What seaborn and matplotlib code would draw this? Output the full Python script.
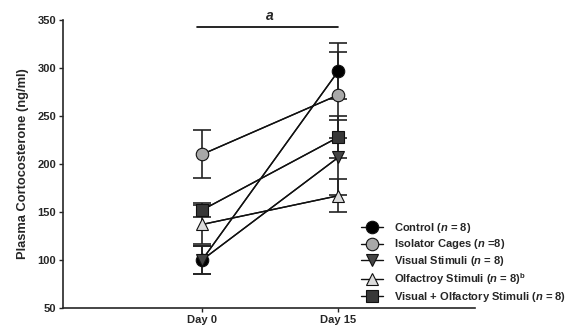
import pandas as pd
import numpy as np
import seaborn as sns
import matplotlib.pyplot as plt

days = ['Day 0', 'Day 15']
groups = ['Control', 'Isolator Cages', 'Visual Stimuli', 'Olfactroy Stimuli', 'Visual + Olfactory Stimuli']
labels = [r'Control ($\mathbfit{n}$ = 8)',
          r'Isolator Cages ($\mathbfit{n}$ =8)',
          r'Visual Stimuli ($\mathbfit{n}$ = 8)',
          r'Olfactroy Stimuli ($\mathbfit{n}$ = 8)$^{\mathbf{b}}$',
          r'Visual + Olfactory Stimuli ($\mathbfit{n}$ = 8)']
day0 = [100, 210, 100, 137, 152]
day15 = [297, 272, 207, 167, 228]
err0 = [15, 25, 15, 20, 7]
err15 = [29, 45, 39, 17, 22]

markers = ['o', 'o', 'v', '^', 's']
colors = ['black', '#a8a8a8', '#454545', '#dcdcdc', '#383838']

sns.set_style('ticks')
plt.rcParams['font.family'] = ['Liberation Sans', 'DejaVu Sans']
plt.rcParams['mathtext.fontset'] = 'custom'
plt.rcParams['mathtext.bfit'] = 'Liberation Sans:bold:italic'
plt.rcParams['mathtext.bf'] = 'Liberation Sans:bold'

df = pd.DataFrame({
    'group': np.repeat(groups, 2),
    'x': [0, 1] * len(groups),
    'value': np.ravel(np.column_stack([day0, day15])),
    'err': np.ravel(np.column_stack([err0, err15])),
})

fig = plt.figure(figsize=(5.7, 3.3), dpi=100)
ax = fig.add_axes([0.1105, 0.0667, 0.7225, 0.8727])

handles = []
for i, g in enumerate(groups):
    sub = df[df['group'] == g]
    ax.errorbar(sub['x'], sub['value'], yerr=sub['err'], fmt='none', ecolor='#222222',
                elinewidth=1.2, capsize=6.5, capthick=1.2, zorder=2)
    sns.lineplot(data=sub, x='x', y='value', ax=ax, color='#111111', linewidth=1, zorder=3)
    h, = ax.plot(sub['x'], sub['value'], linestyle='-', color='#111111', lw=1,
                 marker=markers[i], markersize=9, markerfacecolor=colors[i],
                 markeredgecolor='#111111', markeredgewidth=0.8, zorder=4 + i)
    handles.append(h)

ax.set_xlim(-1.02, 2.0)
ax.set_ylim(50, 350)
ax.set_xticks([0, 1])
ax.set_xticklabels(days, fontweight='bold', fontsize=8)
ax.set_yticks(range(50, 351, 50))
for t in ax.get_yticklabels():
    t.set_fontweight('bold')
    t.set_fontsize(8)
ax.tick_params(axis='both', length=3, width=1, pad=2)
ax.set_xlabel('')
ax.set_ylabel('Plasma Cortocosterone (ng/ml)', fontweight='bold', fontsize=9.3, labelpad=6)
sns.despine(ax=ax)
for s in ['left', 'bottom']:
    ax.spines[s].set_linewidth(1.2)

# significance bar
ax.plot([-0.04, 1.0], [343, 343], color='black', lw=1.2, clip_on=False)
ax.text(0.5, 347, 'a', ha='center', va='bottom', fontsize=10, fontweight='bold', style='italic')

leg = ax.legend(handles, labels, loc='lower left', bbox_to_anchor=(0.712, 0.0), frameon=False,
                prop={'weight': 'bold', 'size': 8}, handlelength=2.0, handletextpad=1.0,
                labelspacing=0.25, borderaxespad=0.0)
leg.set_clip_on(False)

fig.savefig('out.png', dpi=100)
